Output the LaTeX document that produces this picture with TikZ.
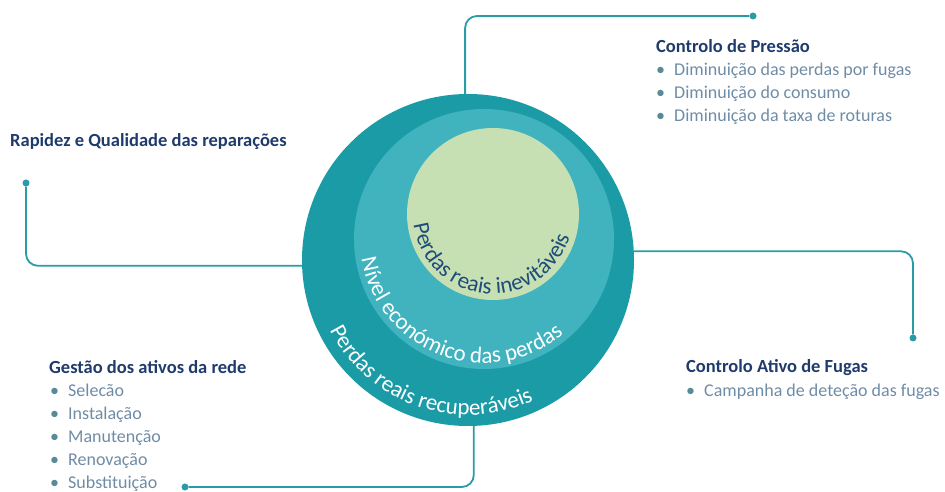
\documentclass[tikz,border=0pt]{standalone}
\usepackage{fontspec}
\setmainfont{Carlito}
\usetikzlibrary{decorations.text}

\definecolor{outerteal}{HTML}{1A9BA6}
\definecolor{midteal}{HTML}{40B3BE}
\definecolor{innergreen}{HTML}{C6E0B4}
\definecolor{linkteal}{HTML}{2A9CA8}
\definecolor{titlenavy}{HTML}{1F3B6C}
\definecolor{innernavy}{HTML}{1F4C7A}
\definecolor{itemgrey}{HTML}{6F8CA6}
\definecolor{bulletgrey}{HTML}{5A8A98}

\tikzset{
  title/.style={anchor=base west, inner sep=0pt, font=\fontsize{18.5}{18}\selectfont\bfseries, text=titlenavy},
  item/.style={anchor=base west, inner sep=0pt, font=\fontsize{18}{18}\selectfont, text=itemgrey},
  dot/.style={circle, fill=linkteal, inner sep=0pt, minimum size=7pt},
  link/.style={draw=linkteal, line width=1.8pt, rounded corners=12pt},
  disc/.style={circle, inner sep=0pt}
}
\newcommand{\bul}{\makebox[18pt][l]{\color{bulletgrey}\textbullet}}

\begin{document}
\begin{tikzpicture}[x=1pt,y=1pt]
  \useasboundingbox (0,0) rectangle (945,492);

  % the three loss levels
  \node[disc, fill=outerteal, minimum size=332pt] (outer) at (468,232) {};
  \node[disc, fill=midteal, minimum size=260pt] (middle) at (484,253) {};
  \node[disc, fill=innergreen, minimum size=172pt] (inner) at (493,278) {};

  \path[decorate, decoration={text along path, text align=center, text color=white,
      text={|\fontsize{23}{23}\selectfont|Perdas reais recuperáveis}}]
    ([shift={(186:155)}]outer.center) arc (186:316:155);
  \path[decorate, decoration={text along path, text align=center, text color=white,
      text={|\fontsize{23}{23}\selectfont|Nível económico das perdas}}]
    ([shift={(175:124)}]middle.center) arc (175:324:124);
  \path[decorate, decoration={text along path, text align=center, text color=innernavy,
      text={|\fontsize{23}{23}\selectfont|Perdas reais inevitáveis}}]
    ([shift={(175:80)}]inner.center) arc (175:356:80);

  % connectors
  \node[dot] (dotP) at (753,476) {};
  \node[dot] (dotR) at (26,309) {};
  \node[dot] (dotF) at (913,154) {};
  \node[dot] (dotG) at (185,5) {};
  \draw[link] (outer.91) |- (dotP);
  \draw[link] (outer.182) -| (dotR);
  \draw[link] (outer.3) -| (dotF);
  \draw[link] (outer.-88) |- (dotG);

  % labels
  \node[title] (pres) at (656,439) {Controlo de Pressão};
  \foreach \t [count=\i] in {Diminuição das perdas por fugas, Diminuição do consumo, Diminuição da taxa de roturas}
    \node[item] (pres\i) at (656,439-23*\i) {\bul\t};

  \node[title] (rap) at (10,345) {Rapidez e Qualidade das reparações};

  \node[title] (fug) at (686,119) {Controlo Ativo de Fugas};
  \node[item] (fug1) at (686,95) {\bul Campanha de deteção das fugas};

  \node[title] (ges) at (49,118) {Gestão dos ativos da rede};
  \foreach \t [count=\i] in {Selecão, Instalação, Manutenção, Renovação, Substituição}
    \node[item] (ges\i) at (50,118-23*\i) {\bul\t};
\end{tikzpicture}
\end{document}
